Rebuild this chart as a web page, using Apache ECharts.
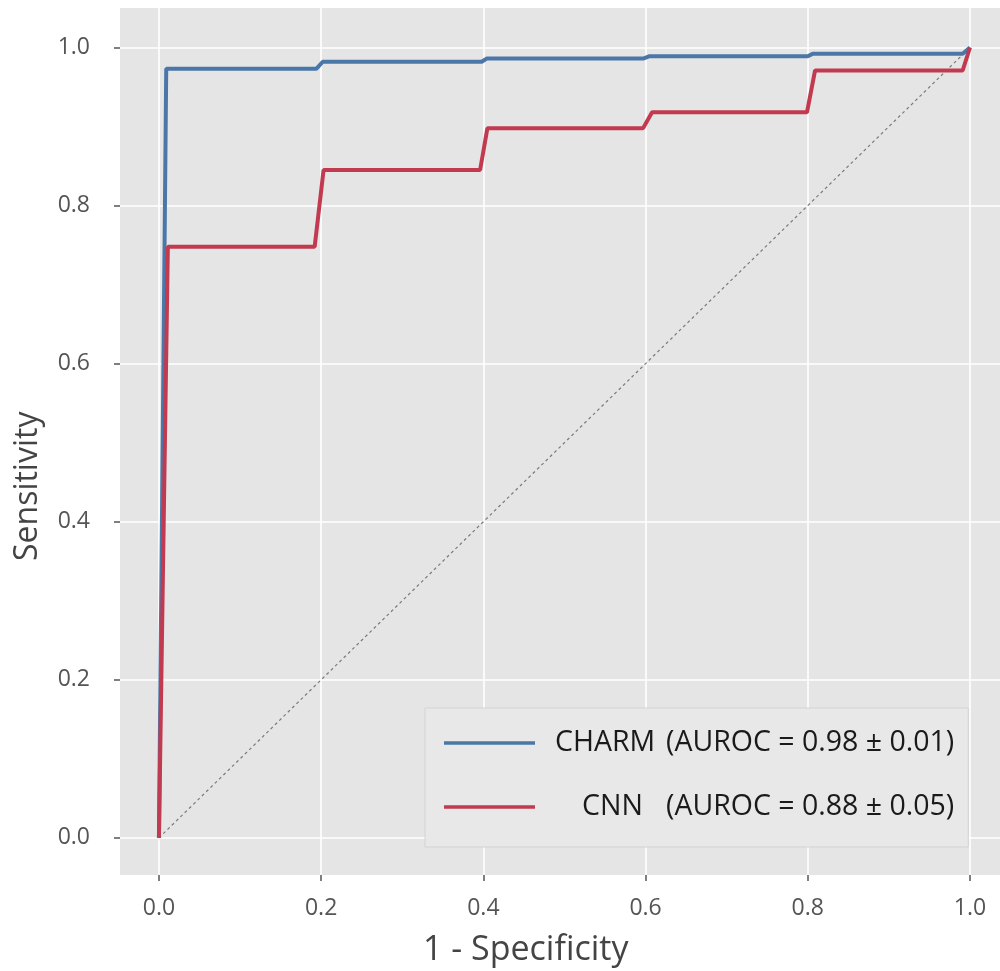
<!DOCTYPE html>
<html>
<head>
<meta charset="utf-8">
<script src="https://cdn.jsdelivr.net/npm/echarts@6/dist/echarts.min.js"></script>
<style>
html,body{margin:0;padding:0;background:#fff;}
#chart{width:1000px;height:971px;}
</style>
</head>
<body>
<div id="chart"></div>
<script>
// ---- data ----
const tickValues = [0.0, 0.2, 0.4, 0.6, 0.8, 1.0];

const charmX = [0, 0.009, 0.194, 0.202, 0.398, 0.404, 0.597, 0.605, 0.800, 0.806, 0.991, 1.0];
const charmY = [0, 0.973, 0.973, 0.982, 0.982, 0.986, 0.986, 0.989, 0.989, 0.992, 0.992, 1.0];

const cnnX = [0, 0.011, 0.192, 0.203, 0.396, 0.405, 0.597, 0.608, 0.799, 0.809, 0.991, 1.0];
const cnnY = [0, 0.748, 0.748, 0.845, 0.845, 0.898, 0.898, 0.918, 0.918, 0.971, 0.971, 1.0];

const chanceX = [0, 1];
const chanceY = [0, 1];

const seriesNames = ['CHARM', 'CNN'];
const seriesScores = ['(AUROC = 0.98 ± 0.01)', '(AUROC = 0.88 ± 0.05)'];

const xTitle = '1 - Specificity';
const yTitle = 'Sensitivity';

// ---- build ----
const zip = (xs, ys) => xs.map((x, i) => [x, ys[i]]);
const FONT = '"Open Sans", "DejaVu Sans", sans-serif';

const chart = echarts.init(document.getElementById('chart'), null, {renderer: 'canvas'});

function axis(min, max, margin) {
  return {
    type: 'value',
    min: min,
    max: max,
    axisLine: {show: false, onZero: false},
    axisTick: {show: true, length: 6, customValues: tickValues, lineStyle: {color: '#555', width: 1.5}},
    axisLabel: {customValues: tickValues, formatter: v => v.toFixed(1), color: '#555', fontSize: 23, fontFamily: FONT, margin: margin},
    splitLine: {show: true, lineStyle: {color: '#ffffff', width: 1.6}}
  };
}

chart.setOption({
  animation: false,
  backgroundColor: '#ffffff',
  grid: {left: 120, top: 8, right: 0, bottom: 96, show: true, backgroundColor: '#e5e5e5', borderWidth: 0},
  xAxis: axis(-0.048, 1.037, 22),
  yAxis: axis(-0.047, 1.05, 30),
  legend: {
    data: seriesNames,
    orient: 'vertical',
    left: 425,
    top: 708,
    padding: [20, 14, 25, 19],
    itemWidth: 106,
    itemHeight: 30,
    itemGap: 34,
    icon: 'path://M0,0 M0,13.2 L91,13.2 L91,16.8 L0,16.8 Z M106,30',
    itemStyle: {borderWidth: 0},
    backgroundColor: '#e8e8e8',
    borderColor: '#d3d3d3',
    borderWidth: 1,
    borderRadius: 0,
    formatter: function (name) {
      const i = seriesNames.indexOf(name);
      return (i === 0 ? '{a|' : '{b|') + name + '}{v|' + seriesScores[i] + '}';
    },
    textStyle: {
      fontSize: 28.5, fontFamily: FONT, color: '#1a1a1a',
      rich: {
        a: {fontSize: 28.5, fontFamily: FONT, color: '#1a1a1a', width: 111},
        b: {fontSize: 28.5, fontFamily: FONT, color: '#1a1a1a', width: 84, padding: [0, 0, 0, 27]},
        v: {fontSize: 28.5, fontFamily: FONT, color: '#1a1a1a'}
      }
    }
  },
  graphic: [
    {type: 'text', left: 423, top: 933, style: {text: xTitle, fontSize: 34, fontFamily: FONT, fill: '#444'}},
    {type: 'text', rotation: Math.PI / 2, x: 12, y: 561, originX: 0, originY: 0,
     style: {text: yTitle, fontSize: 32, fontFamily: FONT, fill: '#444'}}
  ],
  series: [
    {
      name: '', type: 'line', data: zip(chanceX, chanceY), symbol: 'none', z: 2, silent: true,
      lineStyle: {color: '#7a7a7a', width: 1.2, type: [3, 3]}
    },
    {
      name: seriesNames[0], type: 'line', data: zip(charmX, charmY), symbol: 'none', z: 3,
      color: '#4a77a8', lineStyle: {color: '#4a77a8', width: 4}
    },
    {
      name: seriesNames[1], type: 'line', data: zip(cnnX, cnnY), symbol: 'none', z: 4,
      color: '#c13a50', lineStyle: {color: '#c13a50', width: 4}
    }
  ]
});
</script>
</body>
</html>
